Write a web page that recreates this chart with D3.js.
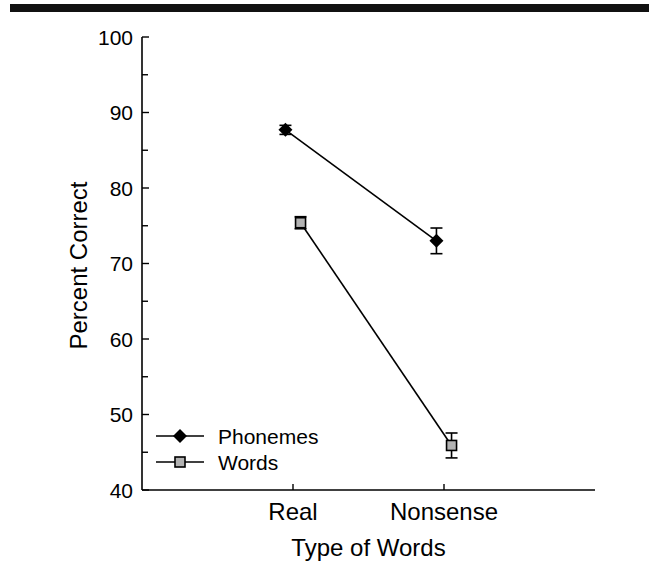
<!DOCTYPE html>
<html>
<head>
<meta charset="utf-8">
<script src="https://cdn.jsdelivr.net/npm/d3@7"></script>
<style>
  body { margin: 0; background: #fff; }
  text { font-family: Arial, "Liberation Sans", sans-serif; fill: #000; }
</style>
</head>
<body>
<div id="chart"></div>
<script>
const categories = ["Real", "Nonsense"];
const seriesNames = ["Phonemes", "Words"];
const phonemeMeans = [87.7, 73.0];
const phonemeErrors = [0.6, 1.7];
const wordMeans = [75.4, 45.9];
const wordErrors = [0.8, 1.65];
const yTicks = [40, 50, 60, 70, 80, 90, 100];

const width = 659, height = 564;
const margin = { left: 142, right: 64, top: 37, bottom: 74 };

const svg = d3.select("#chart").append("svg")
  .attr("width", width)
  .attr("height", height);

// black rule at the top
svg.append("rect")
  .attr("x", 10).attr("y", 4)
  .attr("width", 639).attr("height", 8)
  .attr("fill", "#111");

const x = d3.scaleLinear().domain([0, 3]).range([margin.left, width - margin.right]);
const y = d3.scaleLinear().domain([40, 100]).range([height - margin.bottom, margin.top]);

// y axis: major ticks inward with labels, minor ticks in between
const yAxis = svg.append("g").attr("transform", `translate(${margin.left},0)`);
yAxis.append("line")
  .attr("x1", 0).attr("x2", 0)
  .attr("y1", y(100)).attr("y2", y(40))
  .attr("stroke", "#000").attr("stroke-width", 1.6);
yAxis.selectAll(".major")
  .data(yTicks)
  .join("line")
  .attr("x1", 0).attr("x2", 7)
  .attr("y1", d => y(d)).attr("y2", d => y(d))
  .attr("stroke", "#000").attr("stroke-width", 1.4);
yAxis.selectAll(".minor")
  .data(yTicks.slice(0, -1).map(d => d + 5))
  .join("line")
  .attr("x1", 0).attr("x2", 6)
  .attr("y1", d => y(d)).attr("y2", d => y(d))
  .attr("stroke", "#000").attr("stroke-width", 1.4);
yAxis.selectAll(".lab")
  .data(yTicks)
  .join("text")
  .attr("x", -9)
  .attr("y", d => y(d))
  .attr("dy", "0.36em")
  .attr("text-anchor", "end")
  .style("font-size", "21px")
  .text(d => d);

// x axis
const xAxis = svg.append("g").attr("transform", `translate(0,${y(40)})`);
xAxis.append("line")
  .attr("x1", x(0)).attr("x2", x(3))
  .attr("y1", 0).attr("y2", 0)
  .attr("stroke", "#000").attr("stroke-width", 1.6);
xAxis.selectAll(".tick")
  .data(categories)
  .join("line")
  .attr("x1", (d, i) => x(i + 1)).attr("x2", (d, i) => x(i + 1))
  .attr("y1", 0).attr("y2", -6)
  .attr("stroke", "#000").attr("stroke-width", 1.4);
xAxis.selectAll(".lab")
  .data(categories)
  .join("text")
  .attr("x", (d, i) => x(i + 1))
  .attr("y", 30)
  .attr("text-anchor", "middle")
  .style("font-size", "24px")
  .text(d => d);

// axis titles
svg.append("text")
  .attr("x", (x(0) + x(3)) / 2)
  .attr("y", 556)
  .attr("text-anchor", "middle")
  .style("font-size", "24px")
  .text("Type of Words");
svg.append("text")
  .attr("transform", `translate(87,${(y(40) + y(100)) / 2 + 2}) rotate(-90)`)
  .attr("text-anchor", "middle")
  .style("font-size", "24px")
  .text("Percent Correct");

const series = [
  { name: seriesNames[0], means: phonemeMeans, errs: phonemeErrors, offset: -0.05, shape: "diamond" },
  { name: seriesNames[1], means: wordMeans, errs: wordErrors, offset: 0.05, shape: "square" }
];

function drawMarker(g, shape, cx, cy) {
  if (shape === "diamond") {
    g.append("path")
      .attr("d", `M${cx},${cy - 7} L${cx + 7},${cy} L${cx},${cy + 7} L${cx - 7},${cy} Z`)
      .attr("fill", "#000");
  } else {
    g.append("rect")
      .attr("x", cx - 5).attr("y", cy - 5)
      .attr("width", 10).attr("height", 10)
      .attr("fill", "#b3b3b3")
      .attr("stroke", "#000").attr("stroke-width", 1.6);
  }
}

series.forEach(s => {
  const g = svg.append("g");
  const pts = s.means.map((m, i) => [x(i + 1 + s.offset), y(m)]);
  g.append("path")
    .attr("d", d3.line()(pts))
    .attr("fill", "none")
    .attr("stroke", "#000").attr("stroke-width", 1.6);
  s.means.forEach((m, i) => {
    const cx = x(i + 1 + s.offset);
    const top = y(m + s.errs[i]), bot = y(m - s.errs[i]);
    g.append("line").attr("x1", cx).attr("x2", cx).attr("y1", top).attr("y2", bot)
      .attr("stroke", "#000").attr("stroke-width", 1.6);
    [top, bot].forEach(yy => {
      g.append("line").attr("x1", cx - 6).attr("x2", cx + 6).attr("y1", yy).attr("y2", yy)
        .attr("stroke", "#000").attr("stroke-width", 1.6);
    });
    drawMarker(g, s.shape, cx, y(m));
  });
});

// legend
const legend = svg.append("g");
series.forEach((s, i) => {
  const ly = 436 + i * 26;
  legend.append("line")
    .attr("x1", 156).attr("x2", 204).attr("y1", ly).attr("y2", ly)
    .attr("stroke", "#000").attr("stroke-width", 1.6);
  drawMarker(legend, s.shape, 180, ly);
  legend.append("text")
    .attr("x", 218).attr("y", ly)
    .attr("dy", "0.36em")
    .style("font-size", "21px")
    .text(s.name);
});
</script>
</body>
</html>
